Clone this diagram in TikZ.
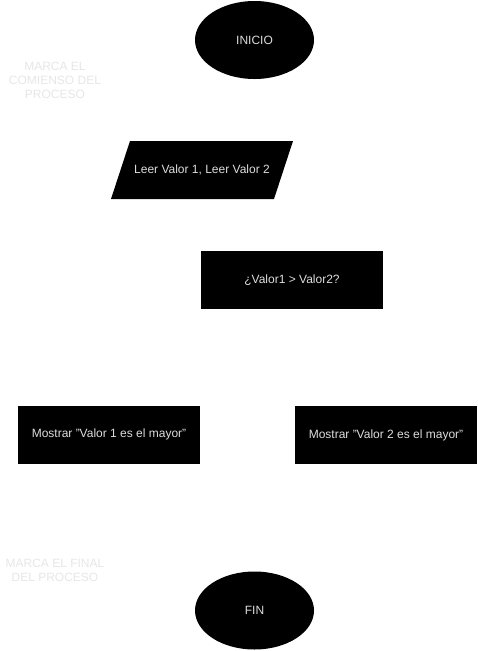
\documentclass[tikz,border=0pt]{standalone}
\usepackage{fontspec}
\setmainfont{Liberation Sans}
\usetikzlibrary{shapes.geometric}
\definecolor{txtgrey}{HTML}{DDDDDD}
\definecolor{notegrey}{HTML}{E6E6E6}
\begin{document}
\begin{tikzpicture}[x=0.75pt,y=-0.75pt,
  every node/.style={font=\fontsize{9}{10.5}\selectfont, inner sep=0pt, outer sep=0pt},
  term/.style={ellipse, fill=black, text=txtgrey, minimum width=119*0.75pt, minimum height=78*0.75pt},
  procbox/.style={rectangle, fill=black, text=txtgrey, minimum width=182*0.75pt, minimum height=58*0.75pt},
  iotext/.style={text=txtgrey, align=center},
  note/.style={text=notegrey, align=center}]
\useasboundingbox (0,0) rectangle (478,651);
\node[term] (inicio) at (254.5,40) {INICIO};
\node[note] (nota1) at (55,80.5) {MARCA EL\\COMIENSO DEL\\PROCESO};
\fill[black] (130,141) -- (293,141) -- (274,199) -- (111,199) -- cycle;
\node[iotext] (leer) at (202,170) {Leer Valor 1, Leer Valor 2};
\node[procbox] (cond) at (292,280) {¿Valor1 > Valor2?};
\node[procbox] (m1) at (109,434.5) {Mostrar "Valor 1 es el mayor"};
\node[procbox] (m2) at (386,435) {Mostrar "Valor 2 es el mayor"};
\node[note] (nota2) at (55,570.5) {MARCA EL FINAL\\DEL PROCESO};
\node[term] (fin) at (254.5,610.5) {FIN};
\end{tikzpicture}
\end{document}
